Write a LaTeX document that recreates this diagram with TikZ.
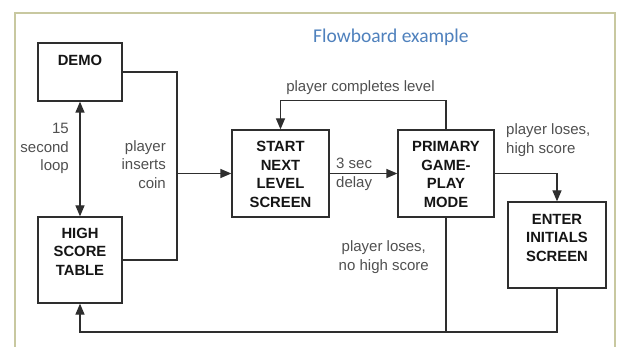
\documentclass[tikz,border=0pt]{standalone}
\usepackage{fontspec}
\setmainfont{Liberation Sans}
\newfontfamily\titlefont{Carlito}
\usetikzlibrary{arrows.meta}
\definecolor{framecol}{HTML}{C8C8A0}
\definecolor{linecol}{HTML}{2E2E2E}
\definecolor{labcol}{HTML}{505050}
\definecolor{boxtxt}{HTML}{151515}
\definecolor{titlecol}{HTML}{4F81BD}
\tikzset{
  flowbox/.style={draw=linecol, line width=1.3pt, rectangle, inner sep=0pt},
  boxlabel/.style={text=boxtxt, font=\fontsize{14.8}{18.5}\selectfont\bfseries, align=center, inner sep=0pt},
  edgelabel/.style={text=labcol, font=\fontsize{15}{18.5}\selectfont, inner sep=0pt},
  conn/.style={draw=linecol, line width=1.3pt},
  arr/.style={conn, -{Triangle[width=9pt,length=11pt]}},
}
\begin{document}
\begin{tikzpicture}[x=1pt,y=-1pt]
\useasboundingbox (0,0) rectangle (618,347);
\fill[white] (0,0) rectangle (618,347);
% frame
\draw[framecol, line width=2pt] (15,347) -- (15,13) -- (615,13) -- (615,347);
% title
\node[anchor=west, inner sep=0pt, text=titlecol, font=\titlefont\fontsize{19.5}{22}\selectfont] (title) at (313,37) {Flowboard example};

% boxes
\node[flowbox, minimum width=84, minimum height=58] (demo) at (80,72) {};
\node[boxlabel] (demotxt) at (80,60) {DEMO};
\node[flowbox, minimum width=84, minimum height=86] (hst) at (80,260) {};
\node[boxlabel] (hsttxt) at (80,251.5) {HIGH\\SCORE\\TABLE};
\node[flowbox, minimum width=97, minimum height=87] (start) at (280.5,173.5) {};
\node[boxlabel] (starttxt) at (280.5,174.5) {START\\NEXT\\LEVEL\\SCREEN};
\node[flowbox, minimum width=96, minimum height=87] (prim) at (446,173.5) {};
\node[boxlabel] (primtxt) at (446,174.5) {PRIMARY\\GAME-\\PLAY\\MODE};
\node[flowbox, minimum width=98, minimum height=86] (enter) at (557,245) {};
\node[boxlabel] (entertxt) at (557,237.5) {ENTER\\INITIALS\\SCREEN};

% junction points
\coordinate (j) at (177,173.5);
\coordinate (bot) at (80,332);

% connectors
\draw[conn, {Triangle[width=9pt,length=11pt]}-{Triangle[width=9pt,length=11pt]}] (demo.south) -- (hst.north);
\draw[conn] (demo.east) -| (j);
\draw[conn] (hst.east) -| (j);
\draw[arr] (j) -- (start.west);
\draw[arr] (start.east) -- (prim.west);
\draw[arr] (prim.north) -- ++(0,-29) -| (start.north);
\draw[arr] (prim.east) -| (enter.north);
\draw[arr] (enter.south) |- (bot) -- (hst.south);
\draw[conn] (prim.south) -- (prim.south |- bot);

% labels
\node[edgelabel, anchor=east, align=right] (l15) at (69,148.5) {15\\second\\loop};
\node[edgelabel, anchor=east, align=right] (lcoin) at (166,164.5) {player\\inserts\\coin};
\node[edgelabel] (lcomp) at (360.5,88) {player completes level};
\node[edgelabel, anchor=west, align=left] (ldelay) at (336,174.5) {3 sec\\delay};
\node[edgelabel, anchor=west, align=left] (lhigh) at (506,140) {player loses,\\high score};
\node[edgelabel, anchor=east, align=center] (lnohigh) at (429,257) {player loses,\\no high score};
\end{tikzpicture}
\end{document}
